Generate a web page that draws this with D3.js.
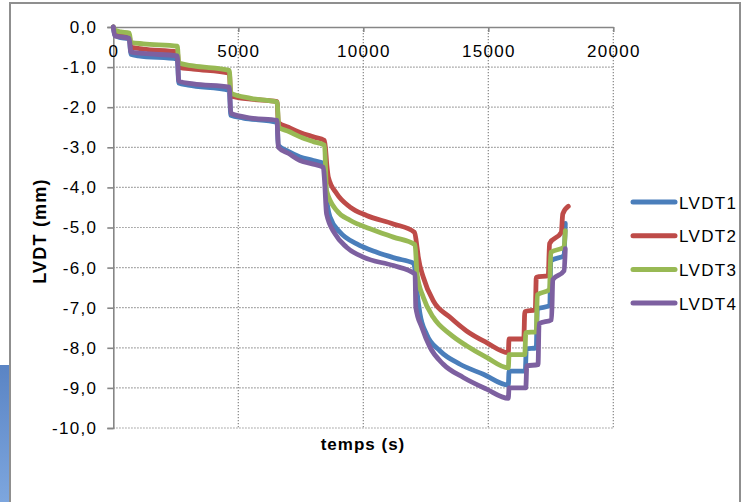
<!DOCTYPE html>
<html>
<head>
<meta charset="utf-8">
<script src="https://cdnjs.cloudflare.com/ajax/libs/d3/7.8.5/d3.min.js"></script>
<style>
  html, body { margin: 0; padding: 0; background: #fff; }
  svg { display: block; font-family: "Liberation Sans", Arial, sans-serif; }
  .tick-label { font-size: 17px; letter-spacing: 1.3px; fill: #000; }
</style>
</head>
<body>
<div id="chart"></div>
<script>
// LVDT displacement vs time

const xTicks = [0, 5000, 10000, 15000, 20000];
const yTicks = [0, -1, -2, -3, -4, -5, -6, -7, -8, -9, -10];
const seriesNames = ['LVDT1', 'LVDT2', 'LVDT3', 'LVDT4'];
const seriesColors = ['#4a7ebb', '#be4b48', '#98b954', '#7d60a0'];

// [temps (s), LVDT (mm)]
const lvdt1 = [[0,0],[60,-0.2],[200,-0.25],[640,-0.3],[700,-0.68],[1000,-0.72],[2560,-0.8],[2620,-1.4],[3000,-1.45],[4640,-1.58],[4700,-2.2],[5200,-2.27],[6550,-2.38],[6600,-2.95],[7000,-3.1],[7470,-3.24],[8000,-3.33],[8450,-3.42],[8520,-4.2],[8670,-4.74],[9070,-5.12],[9740,-5.41],[10540,-5.62],[11300,-5.77],[12000,-5.89],[12080,-6.1],[12130,-6.49],[12270,-7.16],[12530,-7.66],[13070,-8.08],[13870,-8.41],[14800,-8.66],[15800,-8.93],[15830,-8.58],[16480,-8.58],[16520,-8.03],[16920,-8.0],[16960,-7.03],[17460,-6.95],[17500,-5.83],[18030,-5.7],[18080,-4.9]];
const lvdt2 = [[0,0],[60,-0.1],[300,-0.15],[640,-0.2],[700,-0.5],[1200,-0.55],[2560,-0.62],[2620,-1.0],[3200,-1.05],[4640,-1.15],[4700,-1.72],[5500,-1.8],[6550,-1.86],[6600,-2.38],[7000,-2.5],[7470,-2.63],[8000,-2.74],[8450,-2.83],[8550,-3.5],[8600,-3.74],[8940,-4.16],[9470,-4.49],[10130,-4.7],[11200,-4.91],[12050,-5.12],[12150,-5.5],[12200,-5.74],[12400,-6.24],[12800,-6.83],[13470,-7.24],[14130,-7.58],[14930,-7.87],[15800,-8.12],[15830,-7.78],[16420,-7.78],[16460,-7.1],[16880,-7.05],[16920,-6.24],[17400,-6.2],[17450,-5.4],[17920,-5.12],[17980,-4.66],[18200,-4.47]];
const lvdt3 = [[0,0],[60,-0.08],[300,-0.12],[640,-0.15],[700,-0.38],[1200,-0.42],[2560,-0.48],[2620,-0.9],[3200,-0.97],[4640,-1.08],[4700,-1.65],[5500,-1.78],[6550,-1.87],[6620,-2.5],[7000,-2.6],[7470,-2.74],[8000,-2.86],[8450,-2.95],[8530,-4.08],[8940,-4.58],[9470,-4.82],[10270,-5.03],[11200,-5.24],[12070,-5.43],[12150,-6.16],[12400,-6.74],[12800,-7.24],[13470,-7.66],[14130,-7.95],[14930,-8.24],[15800,-8.5],[15830,-8.17],[16460,-8.17],[16500,-7.62],[16920,-7.6],[16960,-6.68],[17450,-6.55],[17500,-5.62],[18030,-5.49],[18080,-5.08]];
const lvdt4 = [[0,0],[60,-0.22],[200,-0.24],[640,-0.28],[700,-0.62],[1200,-0.66],[2560,-0.72],[2620,-1.35],[3200,-1.42],[4640,-1.5],[4700,-2.15],[5500,-2.27],[6550,-2.33],[6600,-3.0],[7000,-3.15],[7470,-3.33],[8000,-3.42],[8400,-3.5],[8450,-3.83],[8530,-4.66],[8870,-5.16],[9330,-5.49],[10000,-5.74],[11200,-5.95],[12070,-6.16],[12100,-6.99],[12340,-7.49],[12670,-7.99],[13200,-8.41],[14000,-8.74],[14930,-9.03],[15800,-9.26],[15830,-9.0],[16500,-9.0],[16540,-8.45],[16990,-8.42],[17030,-7.4],[17530,-7.3],[17580,-6.3],[18030,-6.08],[18080,-5.53]];
const seriesData = [lvdt1, lvdt2, lvdt3, lvdt4];

const width = 743, height = 502;
const plot = { left: 113.3, right: 613.3, top: 27, bottom: 428 };
const axisColor = '#868686';

const svg = d3.select('#chart').append('svg')
    .attr('width', width)
    .attr('height', height);

// frame + the blue strip of the slide behind it
const grad = svg.append('defs').append('linearGradient')
    .attr('id', 'strip').attr('x1', 0).attr('x2', 0).attr('y1', 0).attr('y2', 1);
grad.append('stop').attr('offset', '0%').attr('stop-color', '#5a84c4');
grad.append('stop').attr('offset', '100%').attr('stop-color', '#7ea7df');
svg.append('rect').attr('x', 0).attr('y', 365).attr('width', 9.5).attr('height', 140).attr('fill', 'url(#strip)');
svg.append('rect')
    .attr('x', 10).attr('y', 3).attr('width', 730).attr('height', 520)
    .attr('fill', 'none').attr('stroke', '#8f8f8f').attr('stroke-width', 2);

const x = d3.scaleLinear().domain([0, 20000]).range([plot.left, plot.right]);
const y = d3.scaleLinear().domain([0, -10]).range([plot.top, plot.bottom]);
const fmt = d => d.toFixed(1).replace('.', ',');

// dotted gridlines
const grid = svg.append('g').attr('stroke', axisColor).attr('stroke-width', 1.2).attr('stroke-dasharray', '1.3,1.7');
grid.selectAll('.hgrid').data(yTicks.slice(1)).enter().append('line')
    .attr('x1', plot.left).attr('x2', plot.right)
    .attr('y1', d => y(d)).attr('y2', d => y(d));
grid.selectAll('.vgrid').data(xTicks.slice(1)).enter().append('line')
    .attr('x1', d => x(d)).attr('x2', d => x(d))
    .attr('y1', plot.top).attr('y2', plot.bottom);

// y axis (left)
const yAxis = svg.append('g')
    .attr('transform', `translate(${plot.left},0)`)
    .call(d3.axisLeft(y).tickValues(yTicks).tickFormat(fmt).tickSize(6).tickPadding(10));
yAxis.select('.domain').attr('stroke', axisColor).attr('stroke-width', 1.6);
yAxis.selectAll('.tick line').attr('stroke', axisColor).attr('stroke-width', 1.6);
yAxis.selectAll('.tick text').attr('class', 'tick-label').attr('font-family', null).attr('font-size', null);

// x axis sits on the 0 line, labels under it
const xAxis = svg.append('g')
    .attr('transform', `translate(0,${plot.top})`)
    .call(d3.axisBottom(x).tickValues(xTicks).tickFormat(d3.format('d')).tickSize(5).tickSizeOuter(0).tickPadding(13));
xAxis.select('.domain').attr('stroke', axisColor).attr('stroke-width', 1.6);
xAxis.selectAll('.tick line').attr('stroke', axisColor).attr('stroke-width', 1.6);
xAxis.selectAll('.tick text').attr('class', 'tick-label').attr('font-family', null).attr('font-size', null);

// series (monotone keeps the steps without overshoot)
const line = d3.line().x(d => x(d[0])).y(d => y(d[1])).curve(d3.curveMonotoneX);
svg.append('g').selectAll('path').data(seriesData).enter().append('path')
    .attr('d', line)
    .attr('fill', 'none')
    .attr('stroke', (d, i) => seriesColors[i])
    .attr('stroke-width', 4.8)
    .attr('stroke-linejoin', 'round')
    .attr('stroke-linecap', 'round');

// axis titles
svg.append('text')
    .attr('x', 363).attr('y', 450)
    .attr('text-anchor', 'middle')
    .attr('font-weight', 'bold').attr('font-size', 17).attr('letter-spacing', 1)
    .text('temps (s)');
svg.append('text')
    .attr('transform', 'translate(46,231) rotate(-90)')
    .attr('text-anchor', 'middle')
    .attr('font-weight', 'bold').attr('font-size', 18).attr('letter-spacing', 1.2)
    .text('LVDT (mm)');

// legend
const legend = svg.append('g').selectAll('g').data(seriesNames).enter().append('g')
    .attr('transform', (d, i) => `translate(633,${202 + i * 33.7})`);
legend.append('line')
    .attr('x1', 0).attr('x2', 42)
    .attr('stroke', (d, i) => seriesColors[i])
    .attr('stroke-width', 5).attr('stroke-linecap', 'round');
legend.append('text')
    .attr('x', 46).attr('y', 6.5)
    .attr('font-size', 17).attr('letter-spacing', 1.3)
    .text(d => d);
</script>
</body>
</html>
